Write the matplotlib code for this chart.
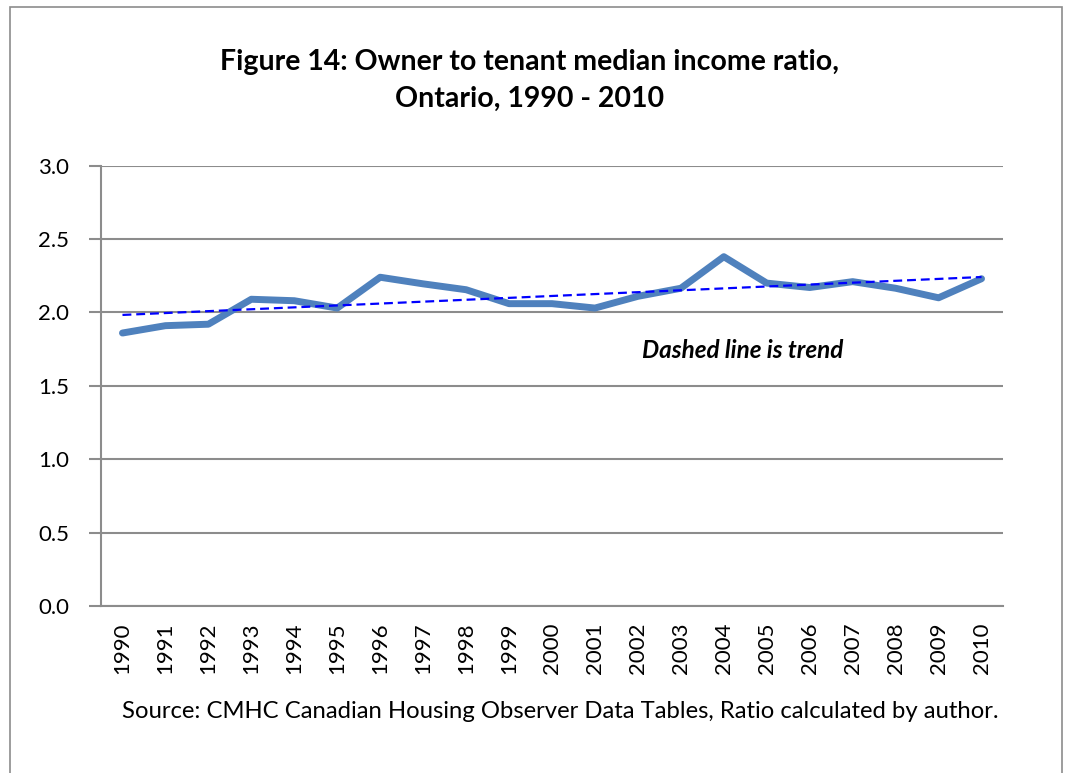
import numpy as np
import matplotlib
matplotlib.use("Agg")
import matplotlib.pyplot as plt
from matplotlib.patches import Rectangle

years = [str(y) for y in range(1990, 2011)]
ratio = [1.86, 1.91, 1.92, 2.09, 2.08, 2.03, 2.24, 2.195, 2.155, 2.06, 2.06,
         2.03, 2.11, 2.165, 2.38, 2.20, 2.17, 2.21, 2.165, 2.10, 2.23]
yticks = [0.0, 0.5, 1.0, 1.5, 2.0, 2.5, 3.0]

FONT = "Lato"
plt.rcParams['font.family'] = [FONT, 'DejaVu Sans']

W, H = 1065, 773
fig = plt.figure(figsize=(W / 100, H / 100), dpi=100)
fig.patches.append(Rectangle((10 / W, -0.1), (1062 - 10) / W, 1.1 - 7 / H,
                             transform=fig.transFigure, fill=False,
                             edgecolor='#8c8c8c', linewidth=1.2))

L, R, T, B = 101, 1003, 165.7, 606
ax = fig.add_axes([L / W, 1 - B / H, (R - L) / W, (B - T) / H])
x = np.arange(len(years))
ax.plot(x, ratio, color='#4f81bd', linewidth=5, solid_capstyle='round',
        solid_joinstyle='round', zorder=3)
coef = np.polyfit(x, ratio, 1)
ax.plot(x, np.polyval(coef, x), color='#0000ff', linestyle=(0, (4, 2.2)),
        linewidth=1.6, zorder=4)

ax.set_xlim(-0.5, len(years) - 0.5)
ax.set_ylim(0, 3.0)
ax.set_yticks(yticks)
ax.set_yticklabels([f"{v:.1f}" for v in yticks], fontsize=16)
ax.set_xticks(x)
ax.set_xticklabels(years, rotation=90, fontsize=16)
ax.tick_params(axis='x', length=0, pad=12)
ax.tick_params(axis='y', length=9, width=1.5, color='#8c8c8c', pad=14)
ax.grid(axis='y', color='#8c8c8c', linewidth=1.5)
ax.set_axisbelow(True)
for s in ['top', 'right']:
    ax.spines[s].set_visible(False)
for s in ['left', 'bottom']:
    ax.spines[s].set_color('#8c8c8c')
    ax.spines[s].set_linewidth(1.5)

fig.text(530 / W, 1 - 80 / H, "Figure 14: Owner to tenant median income ratio,\nOntario, 1990 - 2010",
         ha='center', va='center', fontsize=20.5, fontweight='bold', linespacing=1.52)
fig.text(743 / W, 1 - 350 / H, "Dashed line is trend",
         ha='center', va='center', fontsize=17.5, fontweight='bold', style='italic')
fig.text(560 / W, 1 - 712 / H, "Source: CMHC Canadian Housing Observer Data Tables, Ratio calculated by author.",
         ha='center', va='center', fontsize=17.2)

fig.savefig("out.png", dpi=100)
